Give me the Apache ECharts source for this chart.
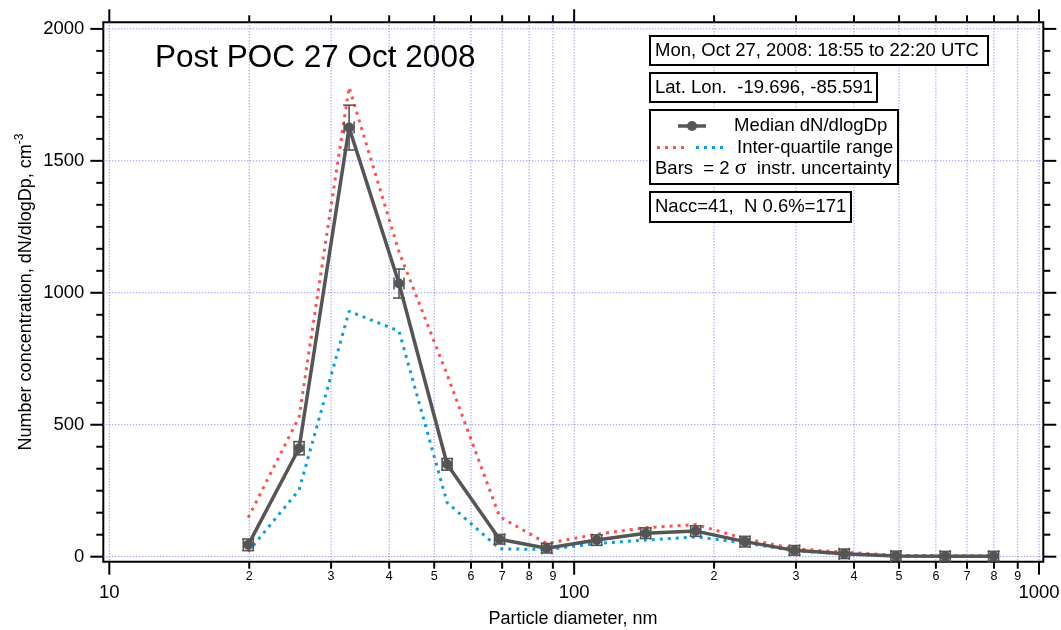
<!DOCTYPE html>
<html><head><meta charset="utf-8">
<script src="https://cdn.jsdelivr.net/npm/echarts@6/dist/echarts.min.js"></script>
<style>html,body{margin:0;padding:0;background:#fff}#c{width:1061px;height:630px}</style>
</head><body><div id="c"></div>
<script>
// ---- data ----
const diameters = [19.9, 25.6, 32.8, 42.0, 53.3, 69.1, 87.3, 111.8, 142.5, 182.6, 233.1, 297.8, 381.0, 492.3, 628.3, 798.6];
const median = [45, 411, 1626, 1035, 350, 66, 32, 63, 89, 97, 57, 24, 11, 3, 2, 2];
const upperQuartile = [148, 529, 1779, 1155, 690, 152, 50, 85, 110, 122, 68, 30, 17, 5, 4, 4];
const lowerQuartile = [19, 253, 930, 855, 205, 30, 27, 50, 63, 75, 52, 22, 10, 3, 2, 2];
const medianErr = [22, 25, 85, 55, 22, 18, 18, 20, 20, 20, 20, 18, 18, 18, 18, 18];
const diameterErrFrac = [0.025, 0.025, 0.025, 0.025, 0.025, 0.025, 0.025, 0.025, 0.025, 0.025, 0.025, 0.025, 0.025, 0.025, 0.025, 0.025];

const xTickValues = [10, 20, 30, 40, 50, 60, 70, 80, 90, 100, 200, 300, 400, 500, 600, 700, 800, 900, 1000];
const xTickLabels = ['10', '2', '3', '4', '5', '6', '7', '8', '9', '100', '2', '3', '4', '5', '6', '7', '8', '9', '1000'];
const xMajorTicks = [10, 100, 1000];
const yMajorTicks = [0, 500, 1000, 1500, 2000];
const yMajorLabels = ['0', '500', '1000', '1500', '2000'];
const yMinorTicks = [83.3, 166.7, 250, 333.3, 416.7, 583.3, 666.7, 750, 833.3, 916.7, 1083.3, 1166.7, 1250, 1333.3, 1416.7, 1583.3, 1666.7, 1750, 1833.3, 1916.7];

const titleText = 'Post POC 27 Oct 2008';
const xTitle = 'Particle diameter, nm';
const yTitle = 'Number concentration, dN/dlogDp, cm';
const infoTime = 'Mon, Oct 27, 2008: 18:55 to 22:20 UTC';
const infoPos = 'Lat. Lon.  -19.696, -85.591';
const legendMedian = 'Median dN/dlogDp';
const legendIQR = 'Inter-quartile range';
const infoCounts = 'Nacc=41,  N 0.6%=171';

// ---- style ----
const FONT = '"Liberation Sans", Arial, Helvetica, sans-serif';
const GRID_COLOR = '#6f6fff';
const MED_COLOR = '#555555';
const RED = '#ff5252';
const BLUE = '#109ee0';
const BOX_FS = 18.5;

const chart = echarts.init(document.getElementById('c'), null, {renderer: 'canvas'});

function xTickRender(params, api) {
  const cs = params.coordSys;
  const v = api.value(0);
  const i = params.dataIndex;
  const x = api.coord([v, 0])[0];
  const major = xMajorTicks.indexOf(v) >= 0;
  const yb = cs.y + cs.height, yt = cs.y;
  const len = major ? 13 : 7;
  return {type: 'group', children: [
    {type: 'line', shape: {x1: x, y1: yt, x2: x, y2: yb}, style: {stroke: GRID_COLOR, lineWidth: 1, lineDash: [1, 2]}},
    {type: 'line', shape: {x1: x, y1: yb, x2: x, y2: yb + len}, style: {stroke: '#000', lineWidth: 2}},
    {type: 'line', shape: {x1: x, y1: yt, x2: x, y2: yt - len}, style: {stroke: '#000', lineWidth: 2}},
    {type: 'text', x: x, y: major ? yb + 31 : yb + 15, style: {text: xTickLabels[i], fill: '#000',
      font: (major ? '18.5px ' : '12.5px ') + FONT, align: 'center', verticalAlign: 'middle'}}
  ]};
}

function yMajorRender(params, api) {
  const cs = params.coordSys;
  const v = api.value(1);
  const i = params.dataIndex;
  const y = api.coord([100, v])[1];
  const xl = cs.x, xr = cs.x + cs.width;
  return {type: 'group', children: [
    {type: 'line', shape: {x1: xl, y1: y, x2: xr, y2: y}, style: {stroke: GRID_COLOR, lineWidth: 1, lineDash: [1, 2]}},
    {type: 'line', shape: {x1: xl - 13, y1: y, x2: xl, y2: y}, style: {stroke: '#000', lineWidth: 2}},
    {type: 'line', shape: {x1: xr, y1: y, x2: xr + 13, y2: y}, style: {stroke: '#000', lineWidth: 2}},
    {type: 'text', x: xl - 19, y: y, style: {text: yMajorLabels[i], fill: '#000', font: '18.5px ' + FONT, align: 'right', verticalAlign: 'middle'}}
  ]};
}

function yMinorRender(params, api) {
  const cs = params.coordSys;
  const v = api.value(1);
  const y = api.coord([100, v])[1];
  const xl = cs.x, xr = cs.x + cs.width;
  return {type: 'group', children: [
    {type: 'line', shape: {x1: xl - 7, y1: y, x2: xl, y2: y}, style: {stroke: '#000', lineWidth: 2}},
    {type: 'line', shape: {x1: xr, y1: y, x2: xr + 7, y2: y}, style: {stroke: '#000', lineWidth: 2}}
  ]};
}

function errRender(params, api) {
  const d = api.value(0), m = api.value(1), e = api.value(2), f = api.value(3);
  const c = api.coord([d, m]);
  const top = api.coord([d, m + e])[1];
  const bot = api.coord([d, m - e])[1];
  const lx = api.coord([d / (1 + f), m])[0];
  const rx = api.coord([d * (1 + f), m])[0];
  const st = {stroke: '#555555', lineWidth: 1.6};
  const cap = 6;
  return {type: 'group', children: [
    {type: 'line', shape: {x1: c[0], y1: top, x2: c[0], y2: bot}, style: st},
    {type: 'line', shape: {x1: c[0] - cap, y1: top, x2: c[0] + cap, y2: top}, style: st},
    {type: 'line', shape: {x1: c[0] - cap, y1: bot, x2: c[0] + cap, y2: bot}, style: st},
    {type: 'line', shape: {x1: lx, y1: c[1], x2: rx, y2: c[1]}, style: st},
    {type: 'line', shape: {x1: lx, y1: c[1] - cap, x2: lx, y2: c[1] + cap}, style: st},
    {type: 'line', shape: {x1: rx, y1: c[1] - cap, x2: rx, y2: c[1] + cap}, style: st}
  ]};
}

function box(x, y, w, h) {
  return {type: 'rect', shape: {x: x, y: y, width: w, height: h}, style: {fill: '#fff', stroke: '#000', lineWidth: 2}, z: 100};
}
function label(x, y, text) {
  return {type: 'text', x: x, y: y, z: 101, style: {text: text, fill: '#000', font: BOX_FS + 'px ' + FONT, align: 'left', verticalAlign: 'middle'}};
}

const option = {
  animation: false,
  backgroundColor: '#fff',
  grid: {left: 103.3, right: 17.7, top: 22.3, bottom: 68.3, show: true, borderColor: '#000', borderWidth: 2, backgroundColor: 'transparent'},
  xAxis: {type: 'log', logBase: 10, min: 9.707, max: 1021.5,
    axisLine: {show: false}, axisTick: {show: false}, axisLabel: {show: false}, splitLine: {show: false}},
  yAxis: {type: 'value', min: -19, max: 2025,
    axisLine: {show: false}, axisTick: {show: false}, axisLabel: {show: false}, splitLine: {show: false}},
  series: [
    {type: 'custom', silent: true, z: 1, clip: false, renderItem: xTickRender, encode: {x: 0, y: 1},
      data: xTickValues.map(v => [v, 0])},
    {type: 'custom', silent: true, z: 1, clip: false, renderItem: yMajorRender, encode: {x: 0, y: 1},
      data: yMajorTicks.map(v => [100, v])},
    {type: 'custom', silent: true, z: 1, clip: false, renderItem: yMinorRender, encode: {x: 0, y: 1},
      data: yMinorTicks.map(v => [100, v])},
    {type: 'line', z: 2, showSymbol: false, symbol: 'none', silent: true,
      lineStyle: {color: RED, width: 3, type: [3, 5], cap: 'butt'},
      data: diameters.map((d, i) => [d, upperQuartile[i]])},
    {type: 'line', z: 2, showSymbol: false, symbol: 'none', silent: true,
      lineStyle: {color: BLUE, width: 3, type: [3, 5], cap: 'butt'},
      data: diameters.map((d, i) => [d, lowerQuartile[i]])},
    {type: 'line', z: 3, symbol: 'circle', symbolSize: 10, silent: true,
      lineStyle: {color: MED_COLOR, width: 3.5}, itemStyle: {color: MED_COLOR},
      data: diameters.map((d, i) => [d, median[i]])},
    {type: 'custom', z: 4, silent: true, clip: false, renderItem: errRender, encode: {x: 0, y: 1},
      data: diameters.map((d, i) => [d, median[i], medianErr[i], diameterErrFrac[i]])}
  ],
  graphic: [
    {type: 'text', x: 155, y: 58, z: 101, style: {text: titleText, fill: '#000', font: '31.5px ' + FONT, align: 'left', verticalAlign: 'middle'}},
    {type: 'text', x: 573, y: 619, z: 101, style: {text: xTitle, fill: '#000', font: '18px ' + FONT, align: 'center', verticalAlign: 'middle'}},
    {type: 'text', x: 26, y: 292, rotation: Math.PI / 2, z: 101, style: {
      text: '{a|' + yTitle + '}{s|-3}', align: 'center', verticalAlign: 'middle',
      rich: {a: {fontSize: 18, fontFamily: FONT, fill: '#000', lineHeight: 24},
             s: {fontSize: 12, fontFamily: FONT, fill: '#000', verticalAlign: 'top', lineHeight: 24, padding: [0, 0, 10, 0]}}}},
    box(650, 36, 338, 29),
    label(655, 51, infoTime),
    box(650, 73, 227, 29),
    label(655, 88, infoPos),
    box(650, 110, 248, 74),
    {type: 'line', z: 101, shape: {x1: 678, y1: 126, x2: 706, y2: 126}, style: {stroke: MED_COLOR, lineWidth: 3.5}},
    {type: 'circle', z: 102, shape: {cx: 692, cy: 126, r: 5}, style: {fill: MED_COLOR}},
    label(734, 126, legendMedian),
    {type: 'line', z: 101, shape: {x1: 657, y1: 147.5, x2: 686, y2: 147.5}, style: {stroke: RED, lineWidth: 3, lineDash: [3, 5]}},
    {type: 'line', z: 101, shape: {x1: 696, y1: 147.5, x2: 725, y2: 147.5}, style: {stroke: BLUE, lineWidth: 3, lineDash: [3, 5]}},
    label(737, 147.5, legendIQR),
    {type: 'text', x: 655, y: 168.5, z: 101, style: {text: '{a|Bars  = 2 }{g|σ}{a|  instr. uncertainty}', align: 'left', verticalAlign: 'middle',
      rich: {a: {fontSize: BOX_FS, fontFamily: FONT, fill: '#000'}, g: {fontSize: 22, fontFamily: '"Liberation Serif", "DejaVu Serif", serif', fill: '#000'}}}},
    box(650, 192, 201, 30),
    label(655, 207, infoCounts)
  ]
};
chart.setOption(option);
</script></body></html>
